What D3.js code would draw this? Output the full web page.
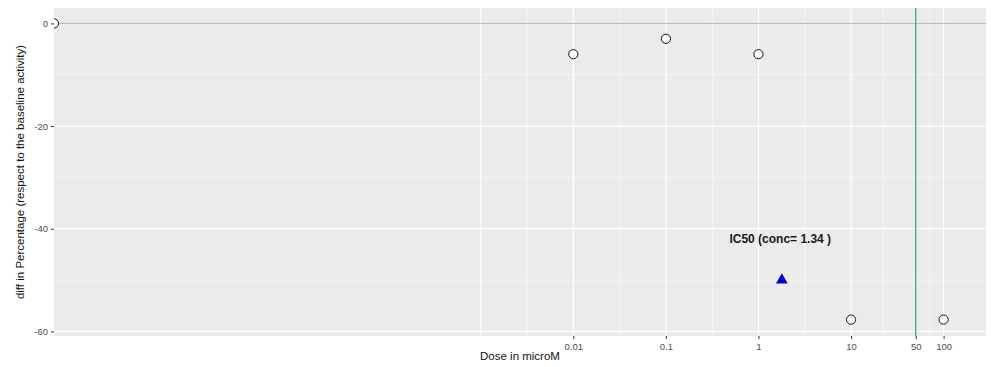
<!DOCTYPE html>
<html><head><meta charset="utf-8">
<script src="https://cdn.jsdelivr.net/npm/d3@7"></script>
<style>body{margin:0;background:#fff;}svg{display:block;font-family:"Liberation Sans",Arial,sans-serif;}</style>
</head><body>
<script>
// Data
const doses = [0, 0.01, 0.1, 1, 10, 100];
const diffs = [0, -6, -3, -6, -57.7, -57.7];
const ic50Dose = [1.79];
const ic50Diff = [-50];
const ic50Label = ["IC50 (conc= 1.34 )"];
const ic50LabelDose = [1.72];
const ic50LabelDiff = [-42];
const xTickValues = [0.01, 0.1, 1, 10, 50, 100];
const xTickLabels = ["0.01", "0.1", "1", "10", "50", "100"];
const xGridBreaks = [0.001, 0.01, 0.1, 1, 10, 50, 100];
const yTickValues = [0, -20, -40, -60];
const yTickLabels = ["0", "-20", "-40", "-60"];
const yMinorValues = [-10, -30, -50];
const vlineDose = [50];
const hlineDiff = [0];

const W = 991, H = 367;
const L = 54, R = 986, T = 8, B = 336;

const svg = d3.select("body").append("svg").attr("width", W).attr("height", H);

const x = d3.scaleLog().domain([Math.pow(10, -7.61), Math.pow(10, 2.458)]).range([L, R]);
const y = d3.scaleLinear().domain([-60.9, 3.0]).range([B, T]);
const xPos = d => d <= 0 ? L : x(d);

svg.append("defs").append("clipPath").attr("id", "clip")
  .append("rect").attr("x", L).attr("y", T).attr("width", R - L).attr("height", B - T);

svg.append("rect").attr("x", L).attr("y", T).attr("width", R - L).attr("height", B - T).attr("fill", "#ebebeb");

const grid = svg.append("g").attr("clip-path", "url(#clip)");
const xMinor = [];
for (let i = 0; i < xGridBreaks.length - 1; i++) xMinor.push(Math.sqrt(xGridBreaks[i] * xGridBreaks[i + 1]));
grid.selectAll(".xmin").data(xMinor).enter().append("line")
  .attr("x1", d => x(d)).attr("x2", d => x(d)).attr("y1", T).attr("y2", B)
  .attr("stroke", "#fff").attr("stroke-width", 0.6);
grid.selectAll(".ymin").data(yMinorValues).enter().append("line")
  .attr("x1", L).attr("x2", R).attr("y1", d => y(d)).attr("y2", d => y(d))
  .attr("stroke", "#fff").attr("stroke-width", 0.6);
grid.selectAll(".xmaj").data(xGridBreaks).enter().append("line")
  .attr("x1", d => x(d)).attr("x2", d => x(d)).attr("y1", T).attr("y2", B)
  .attr("stroke", "#fff").attr("stroke-width", 1.2);
grid.selectAll(".ymaj").data(yTickValues).enter().append("line")
  .attr("x1", L).attr("x2", R).attr("y1", d => y(d)).attr("y2", d => y(d))
  .attr("stroke", "#fff").attr("stroke-width", 1.2);

grid.selectAll(".hl").data(hlineDiff).enter().append("line")
  .attr("x1", L).attr("x2", R).attr("y1", d => y(d)).attr("y2", d => y(d))
  .attr("stroke", "#b3b3b3").attr("stroke-width", 1);
grid.selectAll(".vl").data(vlineDose).enter().append("line")
  .attr("x1", d => x(d)).attr("x2", d => x(d)).attr("y1", T).attr("y2", B)
  .attr("stroke", "#3fa57c").attr("stroke-width", 1.3);

grid.selectAll(".pt").data(doses.map((d, i) => [d, diffs[i]])).enter().append("circle")
  .attr("cx", d => xPos(d[0])).attr("cy", d => y(d[1])).attr("r", 4.6)
  .attr("fill", "#fff").attr("stroke", "#111").attr("stroke-width", 1);

grid.selectAll(".tri").data(ic50Dose.map((d, i) => [d, ic50Diff[i]])).enter().append("path")
  .attr("d", d3.symbol().type(d3.symbolTriangle).size(60))
  .attr("transform", d => `translate(${x(d[0])},${y(d[1])})`)
  .attr("fill", "#0000cc");

grid.selectAll(".lab").data(ic50Label).enter().append("text")
  .attr("x", (d, i) => x(ic50LabelDose[i])).attr("y", (d, i) => y(ic50LabelDiff[i]))
  .attr("dy", "0.35em").attr("text-anchor", "middle")
  .attr("font-size", 12).attr("font-weight", "bold").attr("fill", "#1a1a1a").text(d => d);

const xAxis = d3.axisBottom(x).tickValues(xTickValues).tickFormat((d, i) => xTickLabels[i]).tickSize(3).tickPadding(4);
const gx = svg.append("g").attr("transform", `translate(0,${B})`).call(xAxis);
gx.select(".domain").remove();
gx.selectAll(".tick line").attr("stroke", "#333");
gx.selectAll(".tick text").attr("fill", "#4d4d4d").attr("font-size", 9.5).attr("font-family", "Liberation Sans, Arial, sans-serif");

const yAxis = d3.axisLeft(y).tickValues(yTickValues).tickFormat((d, i) => yTickLabels[i]).tickSize(3).tickPadding(3);
const gy = svg.append("g").attr("transform", `translate(${L},0)`).call(yAxis);
gy.select(".domain").remove();
gy.selectAll(".tick line").attr("stroke", "#333");
gy.selectAll(".tick text").attr("fill", "#4d4d4d").attr("font-size", 9.5).attr("font-family", "Liberation Sans, Arial, sans-serif");

svg.append("text").attr("x", (L + R) / 2).attr("y", 360).attr("text-anchor", "middle")
  .attr("font-size", 11.5).attr("fill", "#111").text("Dose in microM");
svg.append("text").attr("transform", `translate(24,${(T + B) / 2}) rotate(-90)`).attr("text-anchor", "middle")
  .attr("font-size", 11.5).attr("fill", "#111").text("diff in Percentage (respect to the baseline activity)");
</script>
</body></html>
